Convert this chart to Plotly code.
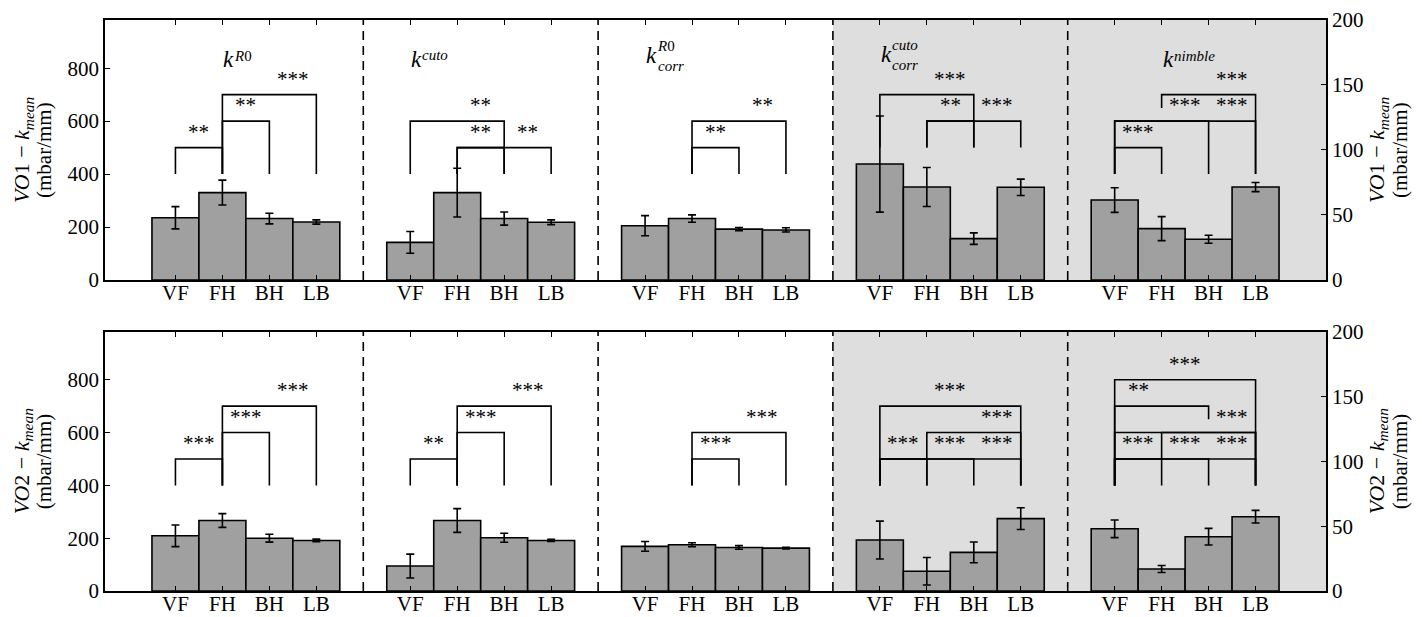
import plotly.graph_objects as go

# ---------------- data ----------------
categories = ["VF", "FH", "BH", "LB"]
panel_labels = [
    ("k", "<i>R</i>0", None),
    ("k", "<i>cuto</i>", None),
    ("k", "<i>R</i>0", "<i>corr</i>"),
    ("k", "<i>cuto</i>", "<i>corr</i>"),
    ("k", "<i>nimble</i>", None),
]
right_axis_panels = [3, 4]          # these panels are read on the right axis

vo1_means = [
    [235, 330, 232, 219],
    [142, 330, 232, 218],
    [205, 232, 192, 189],
    [89.2, 71.5, 31.8, 71.3],
    [61.5, 39.5, 31.3, 71.5],
]
vo1_errors = [
    [42, 47, 20, 8],
    [41, 92, 25, 9],
    [38, 14, 6, 8],
    [37, 15, 4.4, 6.3],
    [9.5, 9.2, 3.1, 3.5],
]
vo2_means = [
    [209, 267, 200, 191.5],
    [94.5, 267, 201.6, 191.5],
    [169, 175, 165, 162.5],
    [39.3, 15.2, 29.8, 55.8],
    [48, 17, 41.9, 57.3],
]
vo2_errors = [
    [41, 26, 15, 5],
    [45, 45, 17, 4],
    [18.5, 7.5, 7, 3],
    [14.6, 10.6, 8, 8.4],
    [6.8, 2.7, 6.4, 4.9],
]

# significance brackets: (panel, i, j, level, base_i, base_j, stars, label_pos)
vo1_brackets = [
    (0, 0, 1, 500, 400, 400, "**", 0.5),
    (0, 1, 2, 600, 400, 400, "**", 1.5),
    (0, 1, 3, 700, 400, 400, "***", 2.5),
    (1, 0, 2, 600, 400, 400, "**", 1.5),
    (1, 1, 2, 500, 400, 400, "**", 1.5),
    (1, 1, 3, 500, 400, 400, "**", 2.5),
    (2, 1, 2, 500, 400, 400, "**", 1.5),
    (2, 1, 3, 600, 400, 400, "**", 2.5),
    (3, 1, 2, 600, 500, 500, "**", 1.5),
    (3, 1, 3, 600, 500, 500, "***", 2.5),
    (3, 0, 2, 700, 500, 500, "***", 1.5),
    (4, 0, 1, 500, 400, 400, "***", 0.5),
    (4, 0, 2, 600, 400, 400, "***", 1.5),
    (4, 0, 3, 600, 400, 400, "***", 2.5),
    (4, 1, 3, 700, 650, 400, "***", 2.5),
]
vo2_brackets = [
    (0, 0, 1, 500, 400, 400, "***", 0.5),
    (0, 1, 2, 600, 400, 400, "***", 1.5),
    (0, 1, 3, 700, 400, 400, "***", 2.5),
    (1, 0, 1, 500, 400, 400, "**", 0.5),
    (1, 1, 2, 600, 400, 400, "***", 1.5),
    (1, 1, 3, 700, 400, 400, "***", 2.5),
    (2, 1, 2, 500, 400, 400, "***", 1.5),
    (2, 1, 3, 600, 400, 400, "***", 2.5),
    (3, 0, 1, 500, 400, 400, "***", 0.5),
    (3, 0, 2, 500, 400, 400, "***", 1.5),
    (3, 0, 3, 500, 400, 400, "***", 2.5),
    (3, 1, 3, 600, 400, 400, "***", 2.5),
    (3, 0, 3, 700, 400, 400, "***", 1.5),
    (4, 0, 1, 500, 400, 400, "***", 0.5),
    (4, 0, 2, 500, 400, 400, "***", 1.5),
    (4, 0, 3, 500, 400, 400, "***", 2.5),
    (4, 0, 3, 600, 400, 400, "***", 2.5),
    (4, 1, 3, 600, 500, 400, "", 2.5),
    (4, 0, 2, 700, 400, 650, "**", 0.5),
    (4, 0, 3, 800, 400, 400, "***", 1.5),
]

left_range = [0, 982]
right_range = [0, 200]
left_ticks = [0, 200, 400, 600, 800]
right_ticks = [0, 50, 100, 150, 200]

# ---------------- style ----------------
FONT = "'Liberation Serif', 'DejaVu Serif', serif"
BAR_COLOR = "#a0a0a0"
SHADE = "#dedede"
STEP = 5  # categories + gap per panel
n_panels = len(panel_labels)
x_range = [-1.5, n_panels * STEP - 0.5]

fig = go.Figure()

rows = [
    dict(means=vo1_means, errs=vo1_errors, br=vo1_brackets, xa="x", ya="y", yb="y2",
         title="<i>VO</i>1 − <i>k</i><sub><i>mean</i></sub>"),
    dict(means=vo2_means, errs=vo2_errors, br=vo2_brackets, xa="x2", ya="y3", yb="y4",
         title="<i>VO</i>2 − <i>k</i><sub><i>mean</i></sub>"),
]

annotations = []
shapes = []

for r, row in enumerate(rows):
    for p in range(n_panels):
        xs = [p * STEP + i for i in range(len(categories))]
        yref = row["yb"] if p in right_axis_panels else row["ya"]
        fig.add_trace(go.Bar(
            x=xs, y=row["means"][p], width=1.0,
            marker=dict(color=BAR_COLOR, line=dict(color="black", width=1.6)),
            error_y=dict(type="data", array=row["errs"][p], color="black",
                         thickness=1.6, width=4),
            xaxis=row["xa"], yaxis=yref, showlegend=False,
        ))
    # brackets
    bx, by = [], []
    for (p, i, j, lev, bi, bj, stars, lp) in row["br"]:
        xi, xj = p * STEP + i, p * STEP + j
        bx += [xi, xi, xj, xj, None]
        by += [bi, lev, lev, bj, None]
        if stars:
            annotations.append(dict(
                x=p * STEP + lp, y=lev, xref=row["xa"], yref=row["ya"],
                text=stars, showarrow=False, xanchor="center", yanchor="bottom",
                yshift=3, borderpad=0, font=dict(family=FONT, size=21, color="black")))
    fig.add_trace(go.Scatter(x=bx, y=by, mode="lines",
                             line=dict(color="black", width=1.6),
                             xaxis=row["xa"], yaxis=row["ya"], showlegend=False,
                             hoverinfo="skip"))
    # shading + dashed separators
    shapes.append(dict(type="rect", xref=row["xa"], yref=row["ya"] + " domain",
                       x0=min(right_axis_panels) * STEP - 1, x1=x_range[1], y0=0, y1=1,
                       fillcolor=SHADE, line=dict(width=0), layer="below"))
    for p in range(1, n_panels):
        shapes.append(dict(type="line", xref=row["xa"], yref=row["ya"] + " domain",
                           x0=p * STEP - 1, x1=p * STEP - 1, y0=0, y1=1,
                           line=dict(color="black", width=1.6, dash="9px,6px"),
                           layer="below"))
    # axis titles (left and right)
    for side, x, shifts in (("l", 0, (-82, -61)), ("r", 1, (52, 74))):
        annotations.append(dict(x=x, y=0.5, xref="paper", yref=row["ya"] + " domain",
                                text=row["title"], textangle=-90, showarrow=False,
                                xanchor="center", yanchor="middle", xshift=shifts[0],
                                borderpad=0, font=dict(family=FONT, size=22, color="black")))
        annotations.append(dict(x=x, y=0.5, xref="paper", yref=row["ya"] + " domain",
                                text="(mbar/mm)", textangle=-90, showarrow=False,
                                xanchor="center", yanchor="middle", xshift=shifts[1],
                                borderpad=0, font=dict(family=FONT, size=21, color="black")))

# panel labels in the top row
label_anchor = [1, 0, 0, 0, 1]
# (k baseline up px, script x shift px, script bottom-line baseline up px)
label_style = [
    (0, 11, 6.6),
    (0, 11, 7.6),
    (4.5, 11, -3.5),
    (5, 11, -2.5),
    (0, 11, 6.6),
]
K_SIZE, S_SIZE = 23, 15


def box_bottom_shift(baseline_up, size):
    return baseline_up - 0.216 * size


for p, (main, sup, sub) in enumerate(panel_labels):
    x0 = p * STEP + label_anchor[p]
    k_up, sdx, s_up = label_style[p]
    annotations.append(dict(x=x0, y=800, xref="x", yref="y", text="<i>" + main + "</i>",
                            showarrow=False, xanchor="left", yanchor="bottom",
                            yshift=box_bottom_shift(k_up, K_SIZE), borderpad=0,
                            font=dict(family=FONT, size=K_SIZE, color="black")))
    script = sup if sub is None else sup + "<br>" + sub
    annotations.append(dict(x=x0, y=800, xref="x", yref="y", text=script,
                            showarrow=False, xanchor="left", yanchor="bottom", align="left",
                            xshift=sdx, yshift=box_bottom_shift(s_up, S_SIZE), borderpad=0,
                            font=dict(family=FONT, size=S_SIZE, color="black")))

tickvals = [p * STEP + i for p in range(n_panels) for i in range(len(categories))]
ticktext = [c for p in range(n_panels) for c in categories]

xcommon = dict(range=x_range, tickvals=tickvals, ticktext=ticktext, ticks="inside",
               ticklen=5, tickwidth=1, tickcolor="black", showline=True,
               linecolor="black", linewidth=1.6, mirror="ticks", showgrid=False,
               zeroline=False, automargin=False, ticklabelstandoff=-7,
               tickfont=dict(family=FONT, size=21, color="black"))
ycommon = dict(ticks="inside", ticklen=5, tickwidth=1, tickcolor="black",
               showline=True, linecolor="black", linewidth=1.6, showgrid=False,
               zeroline=False, automargin=False,
               tickfont=dict(family=FONT, size=21, color="black"))

top_dom = [0.5447, 1.0]
bot_dom = [0.0, 0.4541]

fig.update_layout(
    width=1422, height=617, autosize=False,
    margin=dict(l=105, r=96, t=20, b=26, autoexpand=False),
    paper_bgcolor="white", plot_bgcolor="white",
    barmode="overlay", showlegend=False,
    xaxis=dict(**xcommon, anchor="y"),
    xaxis2=dict(**xcommon, anchor="y3"),
    yaxis=dict(**ycommon, domain=top_dom, range=left_range, tickvals=left_ticks, anchor="x"),
    yaxis2=dict(**ycommon, domain=top_dom, range=right_range, tickvals=right_ticks,
                overlaying="y", side="right", anchor="x"),
    yaxis3=dict(**ycommon, domain=bot_dom, range=left_range, tickvals=left_ticks, anchor="x2"),
    yaxis4=dict(**ycommon, domain=bot_dom, range=right_range, tickvals=right_ticks,
                overlaying="y3", side="right", anchor="x2"),
    annotations=annotations,
    shapes=shapes,
    font=dict(family=FONT, color="black"),
)

fig.write_html("out.html")
